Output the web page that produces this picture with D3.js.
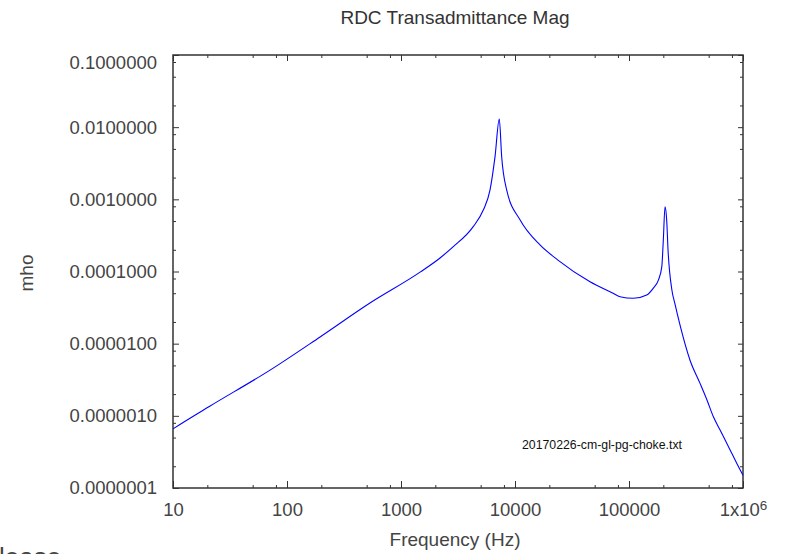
<!DOCTYPE html>
<html>
<head>
<meta charset="utf-8">
<script src="https://cdn.jsdelivr.net/npm/d3@7"></script>
<style>
body { margin: 0; background: #fff; overflow: hidden; }
text { font-family: "Liberation Sans", Arial, sans-serif; }
</style>
</head>
<body>
<script>
// data (Hz, mho)
const FREQ = [10, 11.5, 21, 71, 195, 534, 1470, 2200, 2860, 4300, 5270, 6040, 6680, 7280, 7640, 8450,
  11060, 16560, 23800, 45500, 72400, 83400, 109000, 143000, 163000, 181000, 194000, 200000, 207000,
  214000, 220000, 238000, 253000, 280000, 343000, 420000, 483000, 550000, 628000, 769000, 881000, 1000000];
const MAG = [6.6e-7, 7.6e-7, 1.36e-6, 4.3e-6, 1.24e-5, 3.66e-5, 9.8e-5, 1.54e-4, 2.19e-4, 4.18e-4, 7.1e-4, 1.35e-3, 3.9e-3, 1.3e-2, 3.9e-3, 1.35e-3,
  5.2e-4, 2.33e-4, 1.44e-4, 7.2e-5, 5.0e-5, 4.48e-5, 4.25e-5, 4.73e-5, 5.85e-5, 7.6e-5, 1.17e-4, 2.73e-4, 7.9e-4,
  5.2e-4, 1.99e-4, 5.5e-5, 3.55e-5, 1.82e-5, 5.9e-6, 2.82e-6, 1.66e-6, 9.7e-7, 6.4e-7, 3.4e-7, 2.2e-7, 1.5e-7];

const X_TICKS = [10, 100, 1000, 10000, 100000, 1000000];
const X_LABELS = ['10', '100', '1000', '10000', '100000', '1x10'];
const Y_TICKS = [1e-7, 1e-6, 1e-5, 1e-4, 1e-3, 1e-2, 1e-1];
const MINOR_STEPS = [2, 5, 8];

const TITLE = 'RDC Transadmittance Mag';
const X_TITLE = 'Frequency (Hz)';
const Y_TITLE = 'mho';
const FILE_NOTE = '20170226-cm-gl-pg-choke.txt';

//set up SVG
const SVGWIDTH = 787;
const SVGHEIGHT = 554;
const MARGIN = { top: 55, left: 173, right: 44, bottom: 66 };
const W = SVGWIDTH - MARGIN.left - MARGIN.right;
const H = SVGHEIGHT - MARGIN.top - MARGIN.bottom;

let svg = d3.select('body').append('svg')
  .attr('width', SVGWIDTH)
  .attr('height', SVGHEIGHT);

const chart = svg.append('g')
  .attr('transform', `translate(${MARGIN.left}, ${MARGIN.top})`);

const x = d3.scaleLog().domain([10, 1e6]).range([0, W]);
const y = d3.scaleLog().domain([1e-7, 0.1]).range([H, 0]);

function minors(majors) {
  let out = [];
  majors.slice(0, -1).forEach(m => MINOR_STEPS.forEach(s => out.push(m * s)));
  return out;
}
const xMinor = minors(X_TICKS);
const yMinor = minors(Y_TICKS);

// axes: major + minor ticks, all pointing inward
function addAxis(axis, transform) {
  const g = chart.append('g').attr('transform', transform).style('color', '#333').call(axis);
  g.select('.domain').remove();
  g.selectAll('text').attr('fill', '#444').style('font-size', '18.5px')
    .style('font-family', '"Liberation Sans", Arial, sans-serif');
  return g;
}

const fmtY = d3.format('.7f');
const bottom = addAxis(d3.axisBottom(x).tickValues(X_TICKS).tickSize(-7).tickPadding(15)
  .tickFormat((d, i) => X_LABELS[i]), `translate(0, ${H})`);
bottom.selectAll('text').filter(d => d === 1e6)
  .append('tspan').attr('dy', '-6px').style('font-size', '13.5px').text('6');
addAxis(d3.axisBottom(x).tickValues(xMinor).tickSize(-3).tickFormat(''), `translate(0, ${H})`);

const left = addAxis(d3.axisLeft(y).tickValues(Y_TICKS).tickSize(-6).tickPadding(16)
  .tickFormat(fmtY), 'translate(0, 0)');
left.selectAll('text').filter(d => d === 0.1).attr('dy', '0.75em');
addAxis(d3.axisLeft(y).tickValues(yMinor).tickSize(-3).tickFormat(''), 'translate(0, 0)');

addAxis(d3.axisTop(x).tickValues(X_TICKS).tickSize(-6).tickFormat(''), 'translate(0, 0)');
addAxis(d3.axisTop(x).tickValues(xMinor).tickSize(-3).tickFormat(''), 'translate(0, 0)');
addAxis(d3.axisRight(y).tickValues(Y_TICKS).tickSize(-5).tickFormat(''), `translate(${W}, 0)`);
addAxis(d3.axisRight(y).tickValues(yMinor).tickSize(-3).tickFormat(''), `translate(${W}, 0)`);

chart.append('rect')
  .attr('width', W).attr('height', H)
  .attr('fill', 'none').attr('stroke', '#333').attr('stroke-width', 1.5);

// curve
const pts = FREQ.map((f, i) => ({ f: f, v: MAG[i] }));
const line = d3.line()
  .x(d => x(d.f))
  .y(d => y(d.v))
  .curve(d3.curveMonotoneX);

chart.append('path')
  .datum(pts)
  .attr('d', line)
  .attr('fill', 'none')
  .attr('stroke', '#0000ff')
  .attr('stroke-width', 1.1);

//labels
svg.append('text')
  .attr('x', 455).attr('y', 24)
  .attr('text-anchor', 'middle')
  .attr('fill', '#333').style('font-size', '19px')
  .text(TITLE);

svg.append('text')
  .attr('x', 455).attr('y', 546)
  .attr('text-anchor', 'middle')
  .attr('fill', '#444').style('font-size', '19px')
  .text(X_TITLE);

svg.append('text')
  .attr('transform', 'translate(33, 273) rotate(-90)')
  .attr('text-anchor', 'middle')
  .attr('fill', '#444').style('font-size', '19px')
  .text(Y_TITLE);

svg.append('text')
  .attr('x', 522).attr('y', 449)
  .attr('fill', '#111').style('font-size', '12.3px')
  .text(FILE_NOTE);

// cut-off text from the page below the chart
svg.append('text')
  .attr('x', -1).attr('y', 566)
  .attr('fill', '#444').style('font-size', '26px')
  .text('lease');
</script>
</body>
</html>
